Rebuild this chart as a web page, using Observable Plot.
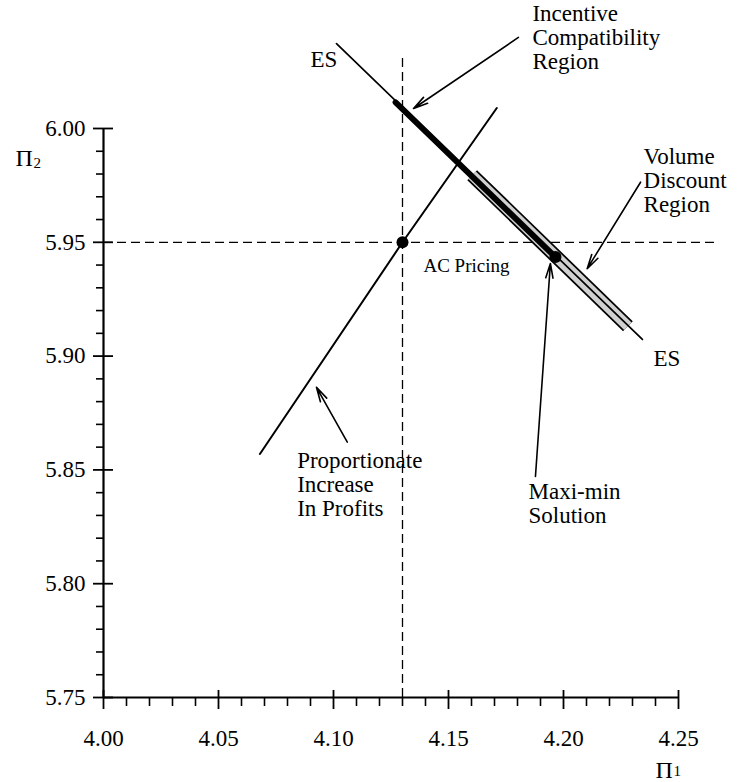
<!DOCTYPE html>
<html>
<head>
<meta charset="utf-8">
<script src="https://cdn.jsdelivr.net/npm/d3@7"></script>
<script src="https://cdn.jsdelivr.net/npm/@observablehq/plot@0.6"></script>
<style>
  html, body { margin: 0; padding: 0; background: #fff; }
  svg { display: block; }
</style>
</head>
<body>
<div id="chart"></div>
<script>
// ---- data ----
const xTicks = [4.00, 4.05, 4.10, 4.15, 4.20, 4.25];
const yTicks = [5.75, 5.80, 5.85, 5.90, 5.95, 6.00];
const xMinor = [4.01, 4.02, 4.03, 4.04, 4.06, 4.07, 4.08, 4.09, 4.11, 4.12, 4.13, 4.14,
                4.16, 4.17, 4.18, 4.19, 4.21, 4.22, 4.23, 4.24];
const yMinor = [5.76, 5.77, 5.78, 5.79, 5.81, 5.82, 5.83, 5.84, 5.86, 5.87, 5.88, 5.89,
                5.91, 5.92, 5.93, 5.94, 5.96, 5.97, 5.98, 5.99];

const esLine = [{x: 4.1013, y: 6.0373}, {x: 4.2343, y: 5.9073}];
const propLine = [{x: 4.068, y: 5.857}, {x: 4.130, y: 5.950}, {x: 4.171, y: 6.009}];
const icRegion = [{x: 4.127, y: 6.0115}, {x: 4.1965, y: 5.9435}];
const vdRegion = [{x: 4.1603, y: 5.9795}, {x: 4.2280, y: 5.9131}];
const points = [{x: 4.130, y: 5.950}, {x: 4.1965, y: 5.9435}];

const refX = 4.13, refXSpan = [5.75, 6.033];
const refY = 5.95, refYSpan = [4.00, 4.2674];

const arrows = [
  {x1: 4.1804, y1: 6.0400, x2: 4.1348, y2: 6.0088},
  {x1: 4.2335, y1: 5.9764, x2: 4.2103, y2: 5.9384},
  {x1: 4.1878, y1: 5.8471, x2: 4.1943, y2: 5.9407},
  {x1: 4.1060, y1: 5.8622, x2: 4.0926, y2: 5.8863}
];

const notes = [
  {x: 4.1865, y: 6.0547, text: "Incentive\nCompatibility\nRegion"},
  {x: 4.2348, y: 5.9917, text: "Volume\nDiscount\nRegion"},
  {x: 4.1848, y: 5.8445, text: "Maxi-min\nSolution"},
  {x: 4.0842, y: 5.8582, text: "Proportionate\nIncrease\nIn Profits"},
  {x: 4.2391, y: 5.9033, text: "ES"}
];
const esTop = [{x: 4.1017, y: 6.0343, text: "ES"}];
const acNote = [{x: 4.1391, y: 5.9429, text: "AC Pricing"}];

// ---- layout ----
const W = 739, H = 782;
const mL = 103, mR = 61, mT = 128, mB = 85;
const frameW = W - mL - mR, frameH = H - mT - mB;
const FONT = 23;

const chart = Plot.plot({
  width: W,
  height: H,
  marginLeft: mL,
  marginRight: mR,
  marginTop: mT,
  marginBottom: mB,
  style: {fontFamily: "'Liberation Serif', 'Times New Roman', serif", fontSize: FONT + "px", background: "#fff", color: "#000", overflow: "visible"},
  x: {domain: [4.00, 4.25]},
  y: {domain: [5.75, 6.00]},
  marks: [
    // dashed reference lines
    Plot.ruleX([refX], {y1: refXSpan[0], y2: refXSpan[1], stroke: "#000", strokeWidth: 1.3, strokeDasharray: "9,5"}),
    Plot.ruleY([refY], {x1: refYSpan[0], x2: refYSpan[1], stroke: "#000", strokeWidth: 1.3, strokeDasharray: "9,5"}),
    // volume discount band
    Plot.line(vdRegion, {x: "x", y: "y", stroke: "#000", strokeWidth: 14, strokeLinecap: "butt"}),
    Plot.line(vdRegion, {x: "x", y: "y", stroke: "#d0d0d0", strokeWidth: 10.5, strokeLinecap: "butt"}),
    // ES line
    Plot.line(esLine, {x: "x", y: "y", stroke: "#000", strokeWidth: 1.7}),
    // proportionate increase line
    Plot.line(propLine, {x: "x", y: "y", stroke: "#000", strokeWidth: 2}),
    // incentive compatibility region
    Plot.line(icRegion, {x: "x", y: "y", stroke: "#000", strokeWidth: 6, strokeLinecap: "round"}),
    // points
    Plot.dot(points, {x: "x", y: "y", r: 6, fill: "#000"}),
    // arrows
    Plot.arrow(arrows, {x1: "x1", y1: "y1", x2: "x2", y2: "y2", stroke: "#000", strokeWidth: 1.6, headLength: 14, headAngle: 28}),
    // annotations
    Plot.text(notes, {x: "x", y: "y", text: "text", textAnchor: "start", lineAnchor: "top", lineHeight: 1.04, fontSize: FONT, fill: "#000"}),
    Plot.text(esTop, {x: "x", y: "y", text: "text", textAnchor: "end", lineAnchor: "top", fontSize: FONT, fill: "#000"}),
    Plot.text(acNote, {x: "x", y: "y", text: "text", textAnchor: "start", lineAnchor: "top", fontSize: 19, fill: "#000"}),
    // axis lines
    Plot.ruleX([xTicks[0]], {y1: yTicks[0], y2: yTicks[yTicks.length - 1], stroke: "#000", strokeWidth: 2.2}),
    Plot.ruleY([yTicks[0]], {x1: xTicks[0], x2: xTicks[xTicks.length - 1], stroke: "#000", strokeWidth: 2.2}),
    // ticks
    Plot.tickX(xTicks, {x: d => d, insetTop: frameH - 7, insetBottom: -12, stroke: "#000", strokeWidth: 1.8}),
    Plot.tickX(xMinor, {x: d => d, insetTop: frameH, insetBottom: -9, stroke: "#000", strokeWidth: 1.6}),
    Plot.tickY(yTicks, {y: d => d, insetLeft: -10, insetRight: frameW - 10, stroke: "#000", strokeWidth: 1.8}),
    Plot.tickY(yMinor, {y: d => d, insetLeft: -7, insetRight: frameW, stroke: "#000", strokeWidth: 1.6}),
    // tick labels
    Plot.axisX(xTicks, {tickSize: 0, tickPadding: 32, tickFormat: d3.format(".2f"), label: null, fontSize: FONT}),
    Plot.axisY(yTicks, {tickSize: 0, tickPadding: 18, tickFormat: d3.format(".2f"), label: null, fontSize: FONT}),
    // axis titles
    Plot.text(["Π"], {frameAnchor: "top-left", textAnchor: "start", lineAnchor: "top", dx: 15 - mL, dy: 148 - mT, fontSize: 24, fill: "#000"}),
    Plot.text(["2"], {frameAnchor: "top-left", textAnchor: "start", lineAnchor: "middle", dx: 33 - mL, dy: 163 - mT, fontSize: 15, fill: "#000"}),
    Plot.text(["Π"], {frameAnchor: "bottom-right", textAnchor: "start", lineAnchor: "top", dx: 655 - (W - mR), dy: 760 - (H - mB), fontSize: 24, fill: "#000"}),
    Plot.text(["1"], {frameAnchor: "bottom-right", textAnchor: "start", lineAnchor: "middle", dx: 673 - (W - mR), dy: 771 - (H - mB), fontSize: 15, fill: "#000"})
  ]
});
document.getElementById("chart").appendChild(chart);
</script>
</body>
</html>
